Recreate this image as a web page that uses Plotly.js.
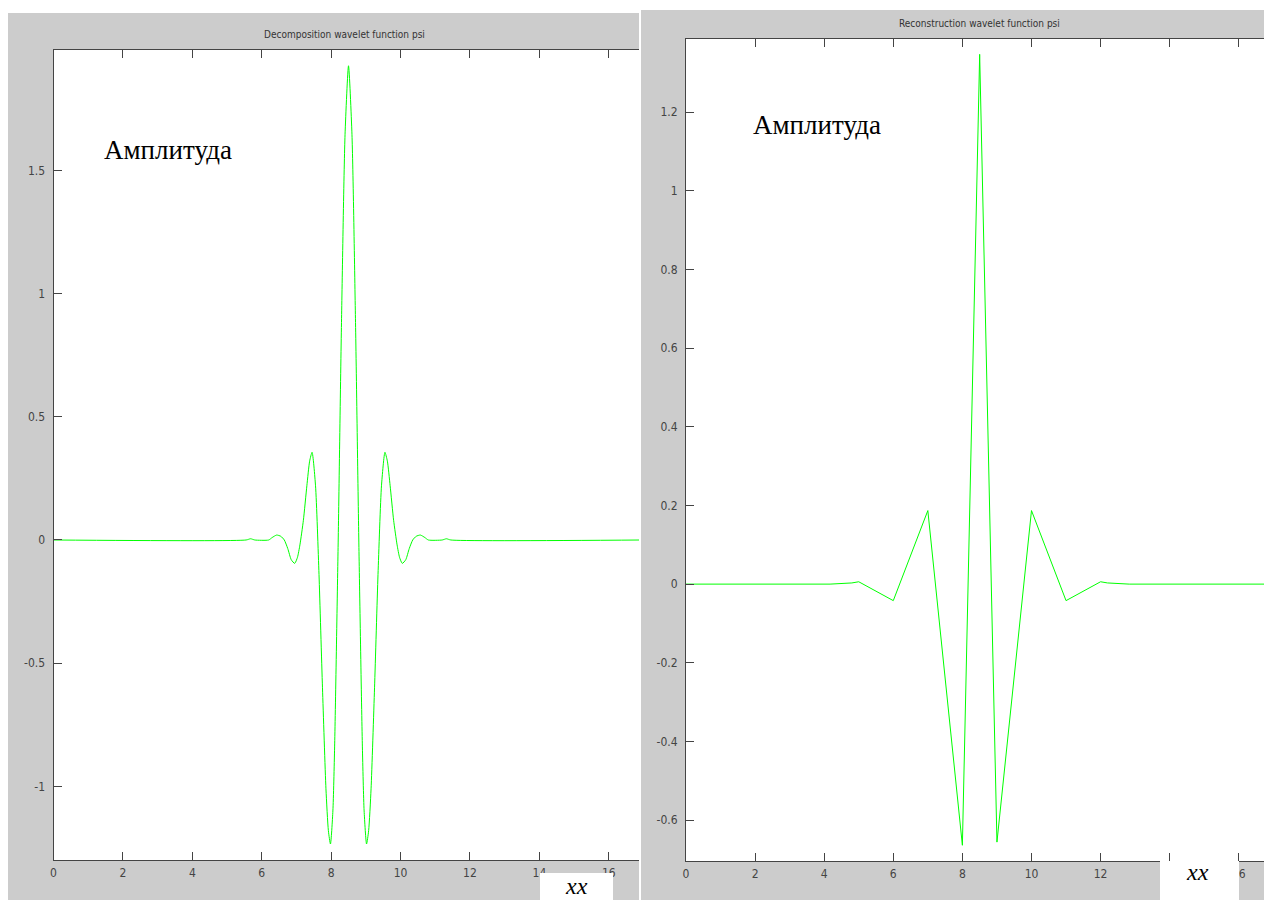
<!DOCTYPE html>
<html>
<head>
<meta charset="utf-8">
<script src="https://cdn.plot.ly/plotly-3.0.1.min.js"></script>
<style>
  html, body { margin: 0; padding: 0; background: #ffffff; }
  #chart { width: 1264px; height: 900px; }
</style>
</head>
<body>
<div id="chart"></div>
<script>
// ---------- data ----------
const decompTitle = "Decomposition wavelet function psi";
const reconTitle = "Reconstruction wavelet function psi";
const amplitudeLabel = "Амплитуда";
const xLabel = "xx";

// Decomposition wavelet psi (smooth curve)
const decompX = [0, 5.55, 5.68, 5.8, 6.2, 6.3, 6.43, 6.55, 6.65, 6.75, 6.85, 6.95, 7.03, 7.1, 7.2, 7.3, 7.38, 7.45,
  7.55, 7.65, 7.75, 7.85, 7.92, 7.98, 8.05, 8.1, 8.2, 8.3, 8.4, 8.5,
  8.6, 8.7, 8.8, 8.9, 8.95, 9.02, 9.08, 9.15, 9.25, 9.35, 9.45, 9.55,
  9.62, 9.7, 9.8, 9.9, 9.97, 10.05, 10.15, 10.25, 10.35, 10.45, 10.57, 10.7, 10.8, 11.2, 11.32, 11.45, 17];
const decompY = [0, 0, 0.005, 0, 0, 0.01, 0.02, 0.015, 0, -0.035, -0.08, -0.095, -0.07, -0.02, 0.08, 0.22, 0.32, 0.356,
  0.22, -0.14, -0.6, -1.01, -1.18, -1.234, -1.1, -0.84, -0.03, 0.9, 1.645, 1.925,
  1.645, 0.9, -0.03, -0.84, -1.1, -1.234, -1.18, -1.01, -0.6, -0.14, 0.22, 0.356,
  0.32, 0.22, 0.08, -0.02, -0.07, -0.095, -0.08, -0.035, 0, 0.015, 0.02, 0.01, 0, 0, 0.005, 0, 0];

// Reconstruction wavelet psi (piecewise linear)
const reconX = [0, 4.17, 4.8, 5, 6, 7, 8, 8.5, 9, 10, 11, 12, 12.2, 12.83, 17];
const reconY = [0, 0, 0.003, 0.006, -0.042, 0.187, -0.664, 1.347, -0.656, 0.187, -0.042, 0.006, 0.003, 0, 0];

// Tick labels
const xTickVals = [0, 2, 4, 6, 8, 10, 12, 14, 16];
const xTickText = ["0", "2", "4", "6", "8", "10", "12", "14", "16"];
const y1TickVals = [-1, -0.5, 0, 0.5, 1, 1.5];
const y1TickText = ["-1", "-0.5", "0", "0.5", "1", "1.5"];
const y2TickVals = [-0.6, -0.4, -0.2, 0, 0.2, 0.4, 0.6, 0.8, 1, 1.2];
const y2TickText = ["-0.6", "-0.4", "-0.2", "0", "0.2", "0.4", "0.6", "0.8", "1", "1.2"];

// ---------- layout helpers (pixel -> paper fraction) ----------
const W = 1264, H = 900;
const px = v => v / W;
const py = v => 1 - v / H;

const tickFont = { family: "Liberation Sans Narrow, DejaVu Sans Condensed, Arial Narrow, sans-serif", size: 12, color: "#444444" };
const titleFont = { family: "Liberation Sans Narrow, DejaVu Sans Condensed, Arial Narrow, sans-serif", size: 10, color: "#333333" };
const serifFont = { family: "Liberation Serif, Times New Roman, serif", size: 27, color: "#000000" };
const italicFont = { family: "Liberation Serif, Times New Roman, serif", size: 24, color: "#000000" };

const axisCommon = {
  ticks: "inside", ticklen: 8, tickwidth: 1, tickcolor: "#444444",
  showline: true, linecolor: "#444444", linewidth: 1,
  showgrid: false, zeroline: false, tickfont: tickFont, fixedrange: true
};

const traces = [
  { x: decompX, y: decompY, type: "scatter", mode: "lines", xaxis: "x", yaxis: "y",
    line: { color: "#00ff00", width: 1, shape: "spline", smoothing: 0.6 }, hoverinfo: "skip" },
  { x: reconX, y: reconY, type: "scatter", mode: "lines", xaxis: "x2", yaxis: "y2",
    line: { color: "#00ff00", width: 1 }, hoverinfo: "skip" }
];

function rect(x0, y0, x1, y1, color, layer) {
  return { type: "rect", xref: "paper", yref: "paper", x0: px(x0), x1: px(x1), y0: py(y1), y1: py(y0),
    fillcolor: color, line: { width: 0 }, layer: layer };
}

const layout = {
  width: W, height: H,
  margin: { l: 0, r: 0, t: 0, b: 0, pad: 0 },
  paper_bgcolor: "#ffffff", plot_bgcolor: "#ffffff",
  showlegend: false,
  xaxis: Object.assign({}, axisCommon, { domain: [px(53.5), px(639)], range: [0, 16.87], anchor: "y",
    tickmode: "array", tickvals: xTickVals, ticktext: xTickText, mirror: "ticks", ticklabelstandoff: 2 }),
  yaxis: Object.assign({}, axisCommon, { domain: [py(860), py(50)], range: [-1.299, 1.989], anchor: "x",
    tickmode: "array", tickvals: y1TickVals, ticktext: y1TickText, mirror: false, ticklabelstandoff: 5 }),
  xaxis2: Object.assign({}, axisCommon, { domain: [px(686), 1], range: [0, 16.73], anchor: "y2",
    tickmode: "array", tickvals: xTickVals, ticktext: xTickText, mirror: "ticks", ticklabelstandoff: 2 }),
  yaxis2: Object.assign({}, axisCommon, { domain: [py(861), py(39)], range: [-0.704, 1.386], anchor: "x2",
    tickmode: "array", tickvals: y2TickVals, ticktext: y2TickText, mirror: false, ticklabelstandoff: 5 }),
  shapes: [
    rect(8, 13, 639, 900, "#cccccc", "below"),
    rect(641, 10, 1264, 900, "#cccccc", "below"),
    rect(53.5, 50, 639, 860, "#ffffff", "below"),
    rect(686, 39, 1264, 861, "#ffffff", "below"),
    rect(540, 873, 613, 900, "#ffffff", "above"),
    rect(1160, 861, 1239, 900, "#ffffff", "above")
  ],
  annotations: [
    { text: decompTitle, xref: "paper", yref: "paper", x: px(344), y: py(34), xanchor: "center", yanchor: "middle", showarrow: false, font: titleFont },
    { text: reconTitle, xref: "paper", yref: "paper", x: px(979), y: py(24), xanchor: "center", yanchor: "middle", showarrow: false, font: titleFont },
    { text: amplitudeLabel, xref: "paper", yref: "paper", x: px(168), y: py(150), xanchor: "center", yanchor: "middle", showarrow: false, font: serifFont },
    { text: amplitudeLabel, xref: "paper", yref: "paper", x: px(817), y: py(125), xanchor: "center", yanchor: "middle", showarrow: false, font: serifFont },
    { text: "<i>" + xLabel + "</i>", xref: "paper", yref: "paper", x: px(576), y: py(886), xanchor: "center", yanchor: "middle", showarrow: false, font: italicFont },
    { text: "<i>" + xLabel + "</i>", xref: "paper", yref: "paper", x: px(1197), y: py(872), xanchor: "center", yanchor: "middle", showarrow: false, font: italicFont }
  ]
};

Plotly.newPlot("chart", traces, layout, { staticPlot: true, displayModeBar: false });
</script>
</body>
</html>
